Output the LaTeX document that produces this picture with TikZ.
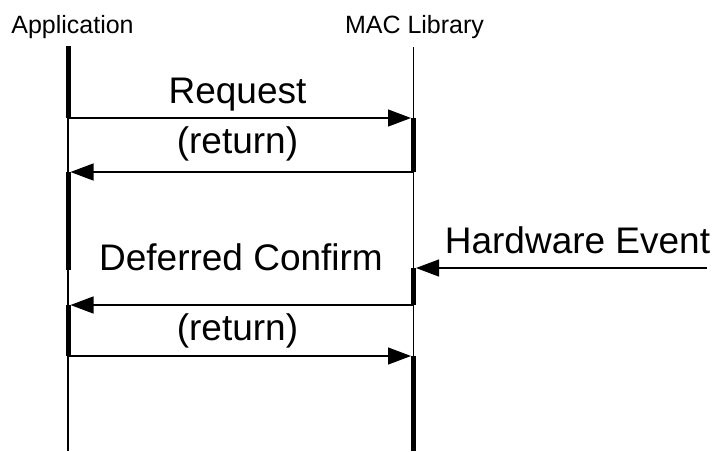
\documentclass[tikz,border=0pt]{standalone}
\usepackage{fontspec}
\setmainfont{Liberation Sans}
\usetikzlibrary{arrows.meta}
\begin{document}
\begin{tikzpicture}[x=1pt,y=-1pt,
  life/.style={line width=1.3pt},
  act/.style={line width=5pt},
  msg/.style={line width=1.3pt,-{Triangle[length=23pt,width=17pt]}},
  hdr/.style={font=\fontsize{25}{30}\selectfont, anchor=base, inner sep=0pt},
  lbl/.style={font=\fontsize{37}{44}\selectfont, anchor=base, inner sep=0pt}]
\useasboundingbox (0,0) rectangle (713,451);
% headers
\node[hdr] (app) at (72.5,33) {Application};
\node[hdr] (mac) at (414.5,33) {MAC Library};
% lifelines
\coordinate (aT) at (68,46);  \coordinate (aB) at (68,451);
\coordinate (mT) at (413.5,47); \coordinate (mB) at (413.5,451);
\draw[life] (aT) -- (aB);
\draw[life] (mT) -- (mB);
% activation bars
\draw[act] (68,46) -- (68,118);
\draw[act] (68,172) -- (68,270);
\draw[act] (68,305) -- (68,356);
\draw[act] (413.5,118) -- (413.5,172);
\draw[act] (413.5,268) -- (413.5,305);
\draw[act] (413.5,356) -- (413.5,451);
% message end points
\coordinate (a1) at (68,118);  \coordinate (m1) at (411,118);
\coordinate (m2) at (413.5,172); \coordinate (a2) at (70.5,172);
\coordinate (h3) at (707,268); \coordinate (m3) at (416,268);
\coordinate (m4) at (413.5,305); \coordinate (a4) at (70.5,305);
\coordinate (a5) at (68,356);  \coordinate (m5) at (411,356);
\draw[msg] (a1) -- (m1);
\draw[msg] (m2) -- (a2);
\draw[msg] (h3) -- (m3);
\draw[msg] (m4) -- (a4);
\draw[msg] (a5) -- (m5);
% labels
\node[lbl] (req) at (237.5,103) {Request};
\node[lbl] (ret1) at (237.5,153) {(return)};
\node[lbl] (hw) at (577.5,253) {Hardware Event};
\node[lbl] (dc) at (241,270) {Deferred Confirm};
\node[lbl] (ret2) at (237.5,340) {(return)};
\end{tikzpicture}
\end{document}
